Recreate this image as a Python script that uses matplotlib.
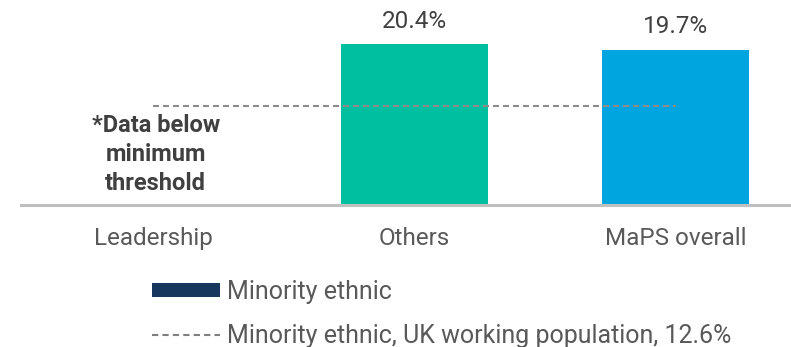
import matplotlib.pyplot as plt
from matplotlib.patches import Patch
from matplotlib.lines import Line2D

plt.rcParams['font.family'] = ['Roboto', 'DejaVu Sans']

categories = ['Leadership', 'Others', 'MaPS overall']
minority_share = [None, 20.4, 19.7]
bar_colors = ['#17375e', '#00bfa0', '#00a5df']
uk_working_pop = 12.6
threshold_note = '*Data below\nminimum\nthreshold'

fig = plt.figure(figsize=(7.91, 3.47), dpi=100)
ax = fig.add_axes([21 / 791, 1 - 205 / 347, 1 - 21 / 791, 205 / 347])

for i, (cat, val) in enumerate(zip(categories, minority_share)):
    if val is None:
        ax.text(i + 0.01, 6.35, threshold_note, ha='center', va='center',
                fontsize=17, fontweight='bold', color='#404040',
                linespacing=1.33)
        continue
    ax.bar(i, val, width=0.562, color=bar_colors[i], zorder=2)
    ax.text(i, val + 2.1, f'{val}%', ha='center', va='baseline',
            fontsize=17.5, color='#404040')

ax.plot([0, 2], [uk_working_pop, uk_working_pop], color='#8c8c8c',
        lw=1.5, linestyle=(0, (2.9, 1.9)), zorder=3)

ax.set_xlim(-0.505, 2.44)
ax.set_ylim(0, 26.0)
ax.set_xticks(range(len(categories)))
ax.set_xticklabels(categories, fontsize=17.5, color='#595959')
ax.tick_params(axis='x', length=0, pad=16)
ax.set_yticks([])
for side in ['top', 'right', 'left']:
    ax.spines[side].set_visible(False)
ax.spines['bottom'].set_color('#bfbfbf')
ax.spines['bottom'].set_linewidth(2.2)

handles = [
    Patch(facecolor='#17375e', edgecolor='none'),
    Line2D([0], [0], color='#7f7f7f', lw=1.5, linestyle=(0, (3, 2))),
]
labels = ['Minority ethnic',
          f'Minority ethnic, UK working population, {uk_working_pop}%']
fig.legend(handles, labels, loc='upper left', bbox_to_anchor=(152 / 791, 1 - 280 / 347),
           frameon=False, fontsize=18, labelcolor='#595959',
           handlelength=2.7, handleheight=0.5, handletextpad=0.3,
           labelspacing=0.78, borderpad=0, borderaxespad=0)

fig.savefig('out.png', dpi=100)
